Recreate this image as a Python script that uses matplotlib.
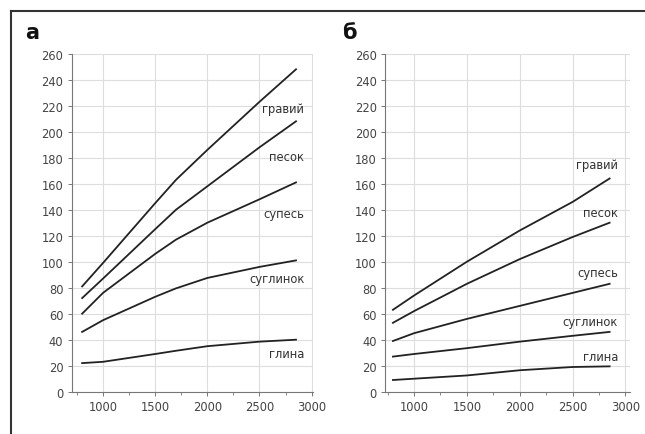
import numpy as np
import matplotlib
matplotlib.use('Agg')
from matplotlib import pyplot as plt
from matplotlib.lines import Line2D
from matplotlib.ticker import MultipleLocator

soils = ['гравий', 'песок', 'супесь', 'суглинок', 'глина']

# panel а
x_a = [800, 1000, 1500, 1700, 2000, 2500, 2850]
gravel_a = [81, 99, 145, 163, 186, 223, 248]
sand_a = [72, 87, 125, 140, 158, 188, 208]
sandyloam_a = [60, 76, 106, 117, 130, 148, 161]
loam_a = [46, 55, 73, 79.5, 87.5, 96, 101]
clay_a = [22, 23, 29, 31.5, 35, 38.5, 40]
label_y_a = [218, 181, 137, 87, 29]

# panel б
x_b = [800, 1000, 1500, 2000, 2500, 2850]
gravel_b = [63, 74, 100, 124, 146, 164]
sand_b = [53, 62, 83, 102, 119, 130]
sandyloam_b = [39, 45, 56, 66, 76, 83]
loam_b = [27, 29, 33.5, 38.5, 43, 46]
clay_b = [9, 10, 12.5, 16.5, 19, 19.5]
label_y_b = [175, 138, 92, 54, 27]

fig = plt.figure(figsize=(6.45, 4.35), dpi=100)

# frame of the figure (top and left)
fig.add_artist(Line2D([11/645, 1], [1 - 12/435, 1 - 12/435], color='#333333', lw=1.5))
fig.add_artist(Line2D([11/645, 11/645], [0, 1 - 12/435], color='#333333', lw=1.5))


def panel(rect, xlim, x, series, label_y, letter, letter_pos):
    ax = fig.add_axes(rect)
    for ys in series:
        ax.plot(x, ys, color='#222222', lw=1.3)
    for name, ly in zip(soils, label_y):
        ax.text(2930, ly, name, ha='right', va='center', fontsize=8.3, color='#333333')
    ax.set_xlim(*xlim)
    ax.set_ylim(0, 260)
    ax.set_xticks([1000, 1500, 2000, 2500, 3000])
    ax.set_yticks(np.arange(0, 261, 20))
    ax.xaxis.set_minor_locator(MultipleLocator(250))
    ax.grid(True, color='#dddddd', lw=0.8)
    ax.set_axisbelow(True)
    for s in ['top', 'right']:
        ax.spines[s].set_visible(False)
    for s in ['left', 'bottom']:
        ax.spines[s].set_color('#777777')
        ax.spines[s].set_linewidth(0.8)
    ax.tick_params(axis='both', which='major', length=3, width=0.7, color='#777777',
                   labelsize=8.3, labelcolor='#444444', pad=3)
    ax.tick_params(axis='x', which='minor', length=2, width=0.6, color='#777777')
    fig.text(letter_pos[0], letter_pos[1], letter, fontsize=15, fontweight='bold',
             color='#111111', ha='left', va='bottom')
    return ax


panel([71.7/645, 42.3/435, 241/645, 338/435], (700, 3010), x_a,
      [gravel_a, sand_a, sandyloam_a, loam_a, clay_a], label_y_a,
      'а', (25/645, 1 - 43/435))
panel([385/645, 42.3/435, 244.7/645, 338/435], (725, 3040), x_b,
      [gravel_b, sand_b, sandyloam_b, loam_b, clay_b], label_y_b,
      'б', (342/645, 1 - 43/435))

fig.savefig('out.png', dpi=100)
